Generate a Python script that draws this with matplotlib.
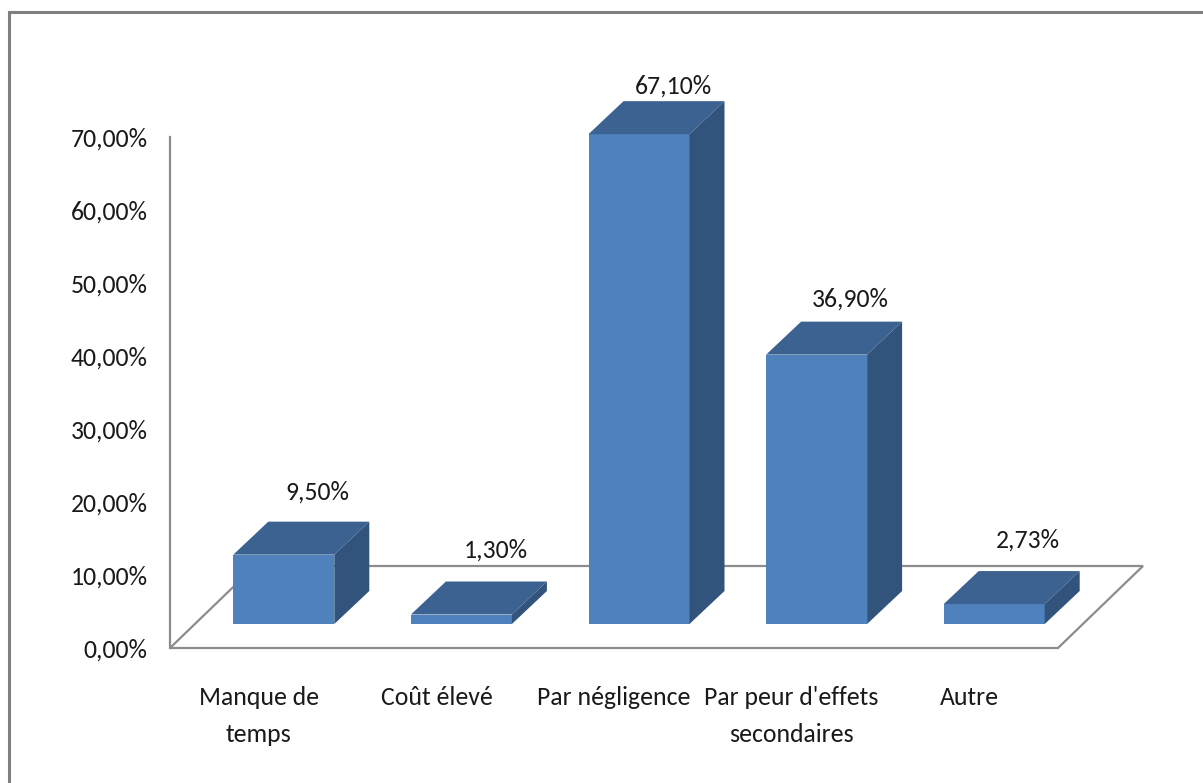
import matplotlib
matplotlib.use("Agg")
import matplotlib.pyplot as plt
from matplotlib.patches import Polygon, Rectangle
from matplotlib import transforms
from matplotlib import font_manager

categories = ["Manque de\ntemps", "Coût élevé", "Par négligence",
              "Par peur d'effets\nsecondaires", "Autre"]
values = [9.50, 1.30, 67.10, 36.90, 2.73]
value_labels = ["9,50%", "1,30%", "67,10%", "36,90%", "2,73%"]
yticks = [0, 10, 20, 30, 40, 50, 60, 70]
ytick_labels = ["0,00%", "10,00%", "20,00%", "30,00%", "40,00%", "50,00%", "60,00%", "70,00%"]

names = {f.name for f in font_manager.fontManager.ttflist}
fam = "DejaVu Sans"
for cand in ["Carlito", "Liberation Sans Narrow", "IBM Plex Sans Condensed", "Open Sans"]:
    if cand in names:
        fam = cand
        break
plt.rcParams["font.family"] = [fam, "DejaVu Sans"]
FS = 18.5 if fam == "Carlito" else 15

W, H, DPI = 1203, 783, 100
fig = plt.figure(figsize=(W / DPI, H / DPI), dpi=DPI)

# front plane of the chart in pixels
x0_px, x1_px = 170, 1058
y0_px, y70_px = 648, 137
ax = fig.add_axes([x0_px / W, (H - y0_px) / H, (x1_px - x0_px) / W, (y0_px - y70_px) / H])
n = len(categories)
ax.set_xlim(-0.5, n - 0.5)
ax.set_ylim(0, 70)
ax.patch.set_visible(False)

px_per_x = (x1_px - x0_px) / n
px_per_y = (y0_px - y70_px) / 70.0

def dx(p):
    return p / px_per_x

def dy(p):
    return p / px_per_y

grey = "#8c8c8c"
front_c = "#4f81bd"
top_c = "#3b6290"
side_c = "#31537c"
txt_c = "#1a1a1a"

# floor parallelogram
floor_dx, floor_dy = dx(85), dy(82)
floor = Polygon([(-0.5, 0), (n - 0.5, 0), (n - 0.5 + floor_dx, floor_dy), (-0.5 + floor_dx, floor_dy)],
                closed=True, facecolor="white", edgecolor=grey, lw=1.6, zorder=1, clip_on=False)
ax.add_patch(floor)

# bars
shift_x, shift_y = dx(25), dy(24)
depth_x, depth_y = dx(35), dy(33)
bw = 101 / px_per_x
for i, v in enumerate(values):
    xl = i - bw / 2 + shift_x
    xr = i + bw / 2 + shift_x
    yb = shift_y
    yt = shift_y + v
    ax.add_patch(Polygon([(xl, yb), (xr, yb), (xr, yt), (xl, yt)], closed=True,
                         facecolor=front_c, edgecolor="none", zorder=3, clip_on=False))
    ax.add_patch(Polygon([(xl, yt), (xr, yt), (xr + depth_x, yt + depth_y), (xl + depth_x, yt + depth_y)],
                         closed=True, facecolor=top_c, edgecolor="none", zorder=3, clip_on=False))
    ax.add_patch(Polygon([(xr, yb), (xr + depth_x, yb + depth_y), (xr + depth_x, yt + depth_y), (xr, yt)],
                         closed=True, facecolor=side_c, edgecolor="none", zorder=3, clip_on=False))
    off = 32 - 0.25 * v
    ax.text(i + shift_x + dx(34), yt + depth_y + dy(off), value_labels[i], ha="center", va="center",
            fontsize=FS, color=txt_c, zorder=5, clip_on=False)

# axes styling
for s in ["top", "right", "bottom"]:
    ax.spines[s].set_visible(False)
ax.spines["left"].set_color(grey)
ax.spines["left"].set_linewidth(1.6)
ax.set_yticks(yticks)
ax.set_yticklabels(ytick_labels, fontsize=FS, color=txt_c)
ax.tick_params(axis="y", length=0, pad=16)
ax.set_xticks([])

# category labels
lab_tr = transforms.offset_copy(ax.transData, fig=fig, x=0, y=-38, units="dots")
for i, c in enumerate(categories):
    ax.text(i, 0, c, transform=lab_tr, ha="center", va="top", fontsize=FS,
            color=txt_c, linespacing=1.75, clip_on=False)

# outer chart border
fig.patches.append(Rectangle((9 / W, -0.2), 1.2, (H - 12) / H + 0.2, transform=fig.transFigure,
                             facecolor="none", edgecolor="#7f7f7f", lw=2.2, zorder=0))

fig.savefig("out.png", dpi=DPI, facecolor="white")
